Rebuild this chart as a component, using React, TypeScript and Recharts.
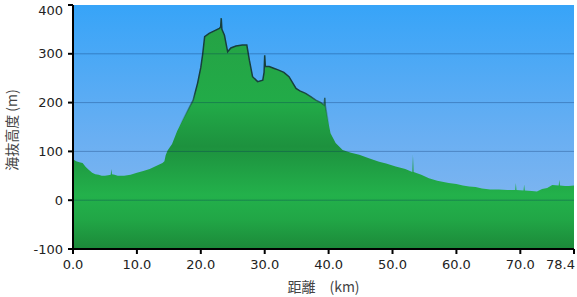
import { AreaChart, Area, XAxis, YAxis, CartesianGrid, ReferenceLine } from 'recharts';

// 距離 (km)
const distanceKm = [
  0, 0.5, 1, 1.5, 2, 2.5, 3, 3.5, 4, 4.5,
  5, 5.5, 5.9, 6.0, 6.1, 6.5, 7, 8, 9, 10,
  11, 12, 13, 14, 14.3, 14.5, 14.8, 15.5, 16.3, 17,
  17.8, 18.8, 19.5, 20.0, 20.3, 20.6, 21.3, 22.1, 22.9, 23.1,
  23.2, 23.3, 23.7, 24.2, 24.7, 25.5, 26.5, 27.2, 27.6, 28.1,
  28.9, 29.7, 29.9, 30.0, 30.1, 30.7, 31.5, 32.1, 33, 33.8,
  34.9, 35.5, 36.4, 37.2, 38, 38.8, 39.3, 39.4, 39.5, 39.8,
  40.3, 41.1, 42.2, 43.5, 44.8, 46.3, 47.9, 49, 50.5, 52,
  53.1, 53.2, 53.3, 54.5, 55.7, 57, 58.8, 60, 61, 62,
  63, 64, 65.3, 66.6, 68, 69.2, 69.3, 69.4, 70.5, 70.6,
  70.7, 71.8, 72.6, 73.4, 74.2, 75, 76, 76.1, 76.2, 77,
  77.6, 78.4,
];

// 海抜高度 (m)
const elevationM = [
  84, 80, 78, 76, 68, 62, 56, 53, 52, 50,
  50, 51, 52, 64, 53, 52, 50, 50, 52, 56,
  60, 64, 70, 76, 80, 92, 102, 115, 142, 160,
  180, 205, 240, 272, 300, 335, 342, 347, 352, 355,
  373, 350, 338, 304, 312, 316, 318, 318, 287, 253,
  243, 246, 262, 297, 274, 274, 270, 267, 262, 253,
  229, 224, 219, 212, 205, 200, 195, 210, 192, 171,
  137, 117, 103, 97, 93, 86, 79, 75, 69, 64,
  58, 93, 58, 52, 45, 40, 35, 33, 30, 28,
  27, 24, 22, 22, 21, 21, 35, 21, 20, 32,
  20, 19, 18, 23, 25, 31, 30, 42, 30, 29,
  29, 30,
];

const xTicks = [0, 10, 20, 30, 40, 50, 60, 70, 78.4];
const yTicks = [-100, 0, 100, 200, 300, 400];
const gridLevels = [0, 100, 200, 300];

const data = distanceKm.map((km, i) => ({ km, elevation: elevationM[i] }));

const tickFont = { fontFamily: '"DejaVu Sans", Verdana, sans-serif', fontSize: 13, fill: '#222' };
const cjkFont = { fontFamily: '"Noto Sans CJK JP", "DejaVu Sans", sans-serif', fontSize: 14, fill: '#444' };

const XTick = ({ x, y, payload }: any) => {
  const last = payload.value === xTicks[xTicks.length - 1];
  return (
    <text x={last ? x + 1 : x} y={y + 3} textAnchor={last ? 'end' : 'middle'} dominantBaseline="hanging" style={tickFont}>
      {Number(payload.value).toFixed(1)}
    </text>
  );
};

const YTick = ({ x, y, payload }: any) => {
  const top = payload.value === yTicks[yTicks.length - 1];
  return (
    <text x={x - 3} y={top ? y + 5 : y} textAnchor="end" dominantBaseline="central" style={tickFont}>
      {payload.value}
    </text>
  );
};

export default function App() {
  return (
    <div style={{ width: 577, height: 297 }}>
      <style>{`body{margin:0}`}</style>
      <AreaChart width={577} height={297} data={data} margin={{ top: 5, right: 3, bottom: 0, left: 0 }}>
        <defs>
          <linearGradient id="bgGrad" gradientUnits="userSpaceOnUse" x1="0" y1="5" x2="0" y2="249">
            <stop offset="0%" stopColor="#37a4f8" />
            <stop offset="55%" stopColor="#6aaff2" />
            <stop offset="100%" stopColor="#8cb9ee" />
          </linearGradient>
          <linearGradient id="fillGrad" gradientUnits="userSpaceOnUse" x1="0" y1="5" x2="0" y2="249">
            <stop offset="0%" stopColor="#26a044" />
            <stop offset="40%" stopColor="#22ab48" />
            <stop offset="58%" stopColor="#1d913e" />
            <stop offset="78%" stopColor="#23b14b" />
            <stop offset="88%" stopColor="#21a646" />
            <stop offset="100%" stopColor="#1c8939" />
          </linearGradient>
          <linearGradient id="lineGrad" gradientUnits="userSpaceOnUse" x1="0" y1="5" x2="0" y2="249">
            <stop offset="0%" stopColor="#173f3c" stopOpacity={1} />
            <stop offset="35%" stopColor="#173f3c" stopOpacity={1} />
            <stop offset="50%" stopColor="#1a5a3c" stopOpacity={0} />
            <stop offset="100%" stopColor="#1a5a3c" stopOpacity={0} />
          </linearGradient>
        </defs>
        <CartesianGrid horizontal={false} vertical={false} fill="url(#bgGrad)" />
        <XAxis
          dataKey="km"
          type="number"
          domain={[0, 78.4]}
          ticks={xTicks}
          interval={0}
          tick={<XTick />}
          height={48}
          axisLine={{ stroke: '#000', strokeWidth: 2 }}
          tickLine={{ stroke: '#000', strokeWidth: 2 }}
          tickSize={5}
          label={{ value: '距離　(km)', position: 'insideBottom', offset: 5, style: cjkFont }}
        />
        <YAxis
          type="number"
          domain={[-100, 400]}
          ticks={yTicks}
          interval={0}
          width={73}
          tick={<YTick />}
          axisLine={{ stroke: '#000', strokeWidth: 2 }}
          tickLine={{ stroke: '#000', strokeWidth: 2 }}
          tickSize={5}
          allowDataOverflow
          label={{
            content: () => (
              <text
                x={11}
                y={130}
                transform="rotate(-90 11 130)"
                textAnchor="middle"
                dominantBaseline="central"
                style={cjkFont}
              >
                海抜高度 (m)
              </text>
            ),
          }}
        />
        <Area
          type="linear"
          dataKey="elevation"
          baseValue={-100}
          fill="url(#fillGrad)"
          fillOpacity={1}
          stroke="url(#lineGrad)"
          strokeWidth={1.5}
          isAnimationActive={false}
          dot={false}
          activeDot={false}
        />
        {gridLevels.map((lv) => (
          <ReferenceLine key={lv} y={lv} stroke="rgba(0,35,90,0.3)" strokeWidth={1} />
        ))}
      </AreaChart>
    </div>
  );
}
